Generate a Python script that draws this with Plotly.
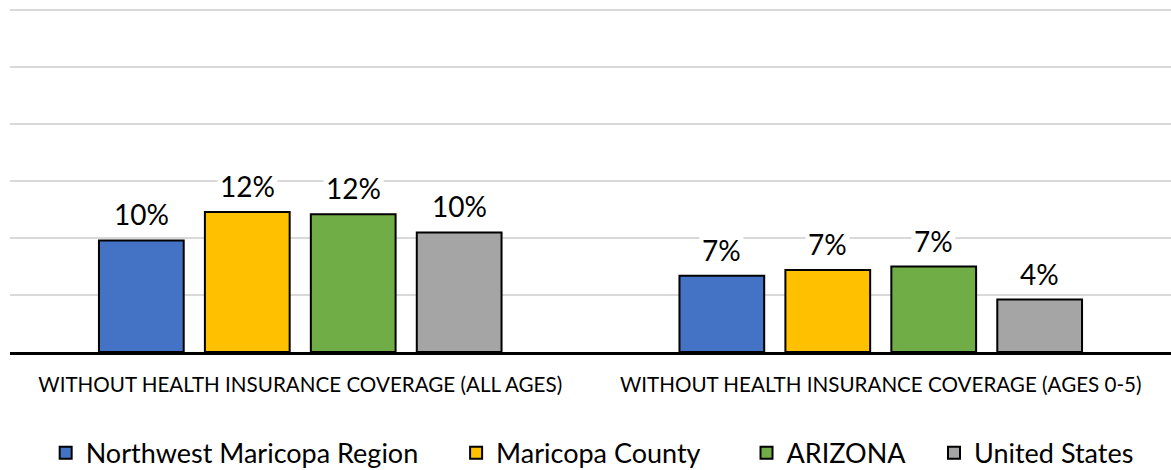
import plotly.graph_objects as go

categories = ["WITHOUT HEALTH INSURANCE COVERAGE (ALL AGES)",
              "WITHOUT HEALTH INSURANCE COVERAGE (AGES 0-5)"]
series_names = ["Northwest Maricopa Region", "Maricopa County", "ARIZONA", "United States"]
nw_region = [9.8, 6.7]
maricopa = [12.3, 7.2]
arizona = [12.1, 7.5]
united_states = [10.5, 4.6]
label_nw = ["10%", "7%"]
label_maricopa = ["12%", "7%"]
label_arizona = ["12%", "7%"]
label_us = ["10%", "4%"]

values = [nw_region, maricopa, arizona, united_states]
labels = [label_nw, label_maricopa, label_arizona, label_us]
colors = ["#4472C4", "#FFC000", "#70AD47", "#A5A5A5"]

BARGAP = 0.27
GROUPGAP = 0.2
FONT = "Lato, Carlito, Calibri, sans-serif"
# legend entry anchor positions (fraction of figure width), one per series
legend_x = [0.039, 0.3895, 0.6375, 0.7976]
legend_ids = ["legend", "legend2", "legend3", "legend4"]

fig = go.Figure()
for name, vals, col, lid in zip(series_names, values, colors, legend_ids):
    fig.add_trace(go.Bar(
        x=list(range(len(categories))), y=vals, name=name,
        marker=dict(color=col, line=dict(color="#000000", width=2)),
        hoverinfo="skip", legend=lid,
    ))

n = len(series_names)
slot = (1 - BARGAP) / n
annotations = []
for j, (vals, labs) in enumerate(zip(values, labels)):
    for i, (v, t) in enumerate(zip(vals, labs)):
        annotations.append(dict(
            x=i + (j - (n - 1) / 2) * slot, y=v, xref="x", yref="y",
            text=t, showarrow=False, yanchor="bottom", yshift=6,
            bgcolor="white", borderpad=2,
            font=dict(family=FONT, size=28, color="#000000"),
        ))

legend_style = dict(orientation="h", xref="container", xanchor="left",
                    yref="container", y=0.036, yanchor="middle",
                    font=dict(family=FONT, size=27, color="#000000"),
                    bgcolor="rgba(0,0,0,0)")
legends = {lid: dict(x=lx, **legend_style) for lid, lx in zip(legend_ids, legend_x)}

fig.update_layout(
    width=1171, height=470,
    margin=dict(l=10, r=0, t=7, b=118),
    paper_bgcolor="white", plot_bgcolor="white",
    barmode="group", bargap=BARGAP, bargroupgap=GROUPGAP,
    font=dict(family=FONT, color="#000000"),
    annotations=annotations,
    showlegend=True,
    xaxis=dict(tickmode="array", tickvals=list(range(len(categories))), ticktext=categories,
               range=[-0.5, 1.5], showgrid=False, showline=True, linecolor="#000000",
               linewidth=3, ticks="", tickfont=dict(family=FONT, size=20.6, color="#000000"),
               ticklabelstandoff=12),
    yaxis=dict(range=[0, 30.3], dtick=5, showticklabels=False, showgrid=True,
               gridcolor="#D9D9D9", gridwidth=1.5, zeroline=False, showline=False, ticks=""),
    **legends,
)

fig.write_html("out.html", config={"displayModeBar": False},
               post_script="document.body.style.margin='0';")
